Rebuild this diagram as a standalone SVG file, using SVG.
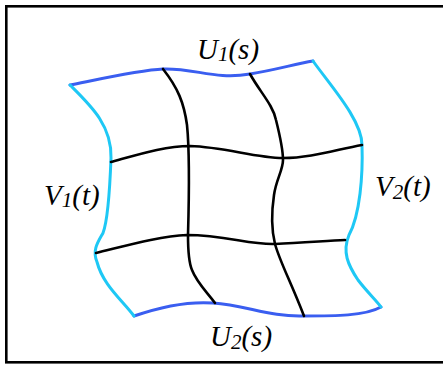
<svg xmlns="http://www.w3.org/2000/svg" width="443" height="365" viewBox="0 0 443 365">
<style>
.u{fill:none;stroke:#3a5ef0;stroke-width:3;stroke-linecap:round}
.v{fill:none;stroke:#1ec8f5;stroke-width:3;stroke-linecap:round}
.g{fill:none;stroke:#000;stroke-width:2.6;stroke-linecap:round}
.lb{font-family:"Liberation Serif",serif;font-style:italic;font-size:29px;fill:#000}
.sb{font-size:21px}
</style>
<rect x="6.3" y="6.3" width="440" height="356" fill="#fff" stroke="#000" stroke-width="2.6"/>
<g id="connectors">
<path id="U1" class="u" d="M70,85 C100,79 140,70 163,69 C195,68 215,80 250,74 C275,70 295,64 313,61"/>
<path id="U2" class="u" d="M134,316 C160,307 185,301 213,303 C245,305 270,317 303,316 C335,316 365,316 381,307"/>
<path id="V1" class="v" d="M70,85 C90,105 112,125 111,158 C110,185 108,220 103,233 C98,242 92,250 97,262 C103,285 122,300 134,316"/>
<path id="V2" class="v" d="M313,61 C330,85 362,120 362,145 C363,175 360,215 349,235 C342,252 348,265 358,280 C368,293 376,300 381,307"/>
<path id="H1" class="g" d="M111,162 C140,154 165,146 190,146 C225,147 255,158 283,158 C310,158 335,150 362,145"/>
<path id="H2" class="g" d="M96,253 C125,246 160,236 187,235 C225,235 250,245 275,244 C300,243 325,241 345,240"/>
<path id="Va" class="g" d="M163,69 C178,88 184,103 187,125 C190,155 189,200 188,235 C188,255 189,263 192,270 C197,283 207,292 215,303"/>
<path id="Vb" class="g" d="M250,74 C260,92 273,105 276,120 C281,140 283,155 283,160 C283,170 276,180 274,195 C271,215 272,232 275,244 C280,262 290,280 304,316"/>
</g>
<g id="label-U1"><text class="lb" x="197" y="59">U<tspan class="sb" dy="2">1</tspan><tspan dy="-2">(s)</tspan></text></g>
<g id="label-U2"><text class="lb" x="210" y="346">U<tspan class="sb" dy="3">2</tspan><tspan dy="-3">(s)</tspan></text></g>
<g id="label-V1"><text class="lb" x="44" y="205">V<tspan class="sb" dy="2">1</tspan><tspan dy="-2">(t)</tspan></text></g>
<g id="label-V2"><text class="lb" x="375" y="196">V<tspan class="sb" dy="3">2</tspan><tspan dy="-3">(t)</tspan></text></g>
</svg>
